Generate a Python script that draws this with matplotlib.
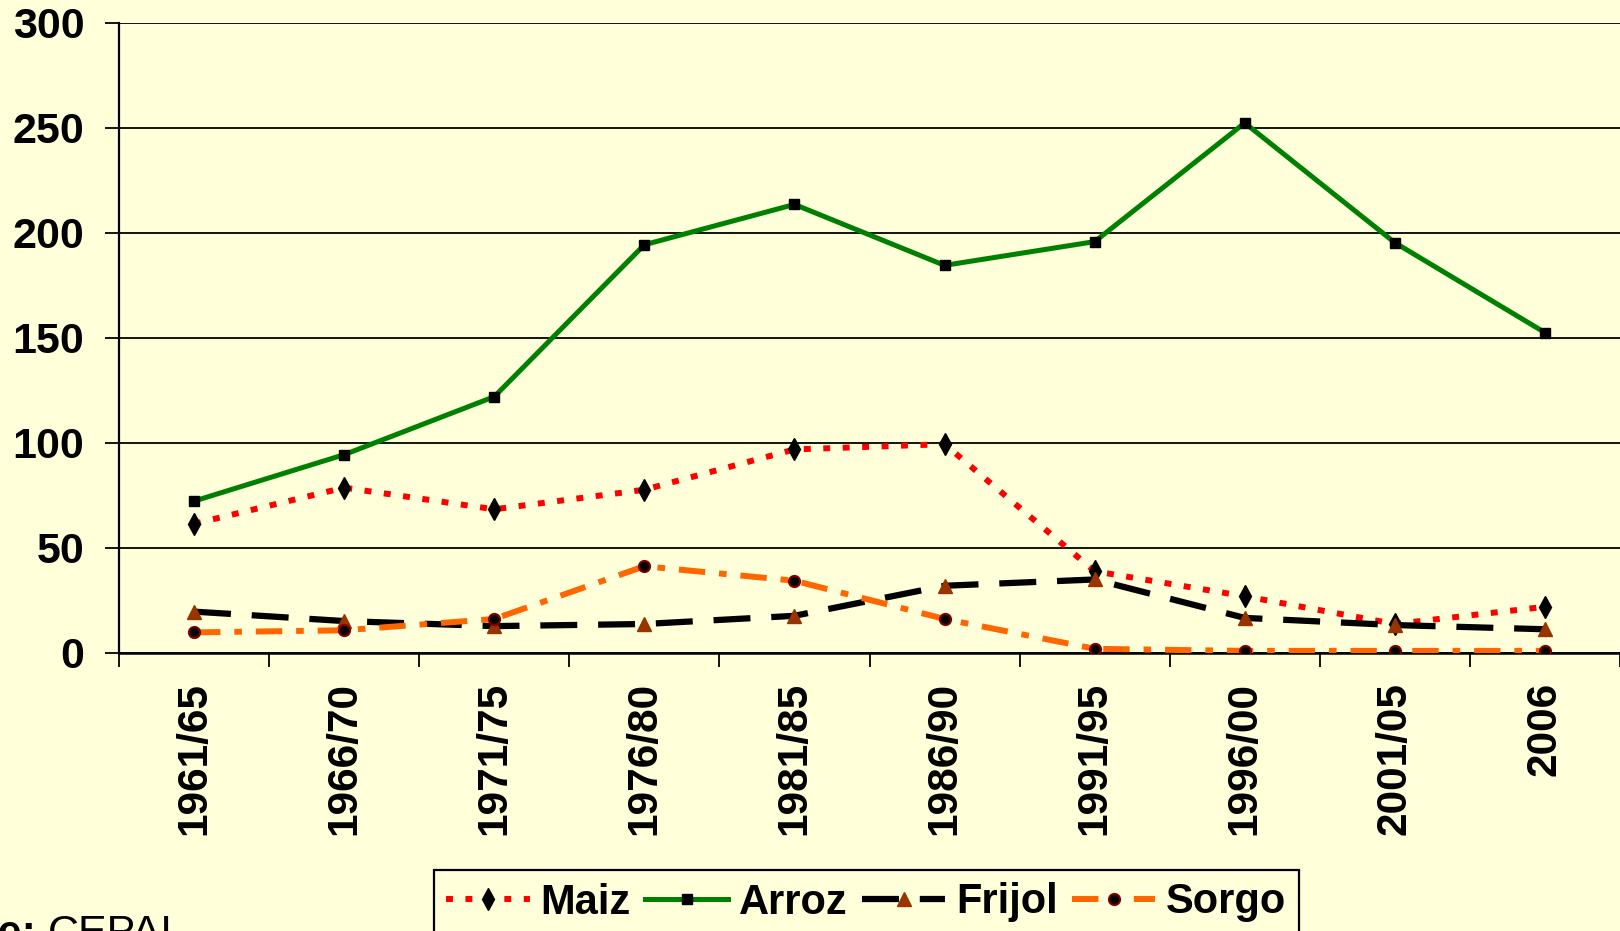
import numpy as np
import matplotlib
matplotlib.use("Agg")
import matplotlib.pyplot as plt

plt.rcParams['font.family'] = ['Liberation Sans', 'DejaVu Sans']
plt.rcParams['lines.scale_dashes'] = False

periods = ["1961/65", "1966/70", "1971/75", "1976/80", "1981/85",
           "1986/90", "1991/95", "1996/00", "2001/05", "2006"]
maiz = [61.5, 78.7, 68.4, 77.7, 96.9, 99.4, 38.9, 27.0, 13.8, 22.0]
arroz = [72.3, 94.4, 122.0, 194.3, 213.5, 184.5, 195.8, 252.3, 195.3, 152.5]
frijol = [19.7, 15.2, 12.8, 13.8, 17.7, 32.0, 35.0, 16.7, 13.3, 11.3]
sorgo = [9.8, 10.8, 16.2, 41.3, 34.4, 16.2, 2.0, 1.0, 1.0, 1.0]
yticks = [0, 50, 100, 150, 200, 250, 300]

bg = '#FFFFDA'
W, H = 1620, 931

fig = plt.figure(figsize=(16.2, 9.31), dpi=100, facecolor=bg)
ax = fig.add_axes([119 / W, 1 - 653 / H, (W - 119) / W, (653 - 22.7) / H])
ax.set_facecolor(bg)

x = np.arange(len(periods))

ax.plot(x, maiz, color='#FF0000', lw=4.3, dashes=(5, 9),
        marker='d', ms=11, mfc='black', mec='black', label='Maiz', zorder=3)
ax.plot(x, arroz, color='#008000', lw=3.6,
        marker='s', ms=7.5, mfc='black', mec='black', label='Arroz', zorder=4)
ax.plot(x, frijol, color='black', lw=4.5, dashes=(26.6, 15),
        marker='^', ms=10, mfc='#993300', mec='#993300', label='Frijol', zorder=5)
ax.plot(x, sorgo, color='#FF6600', lw=4.3, dashes=(19, 10, 5.5, 10),
        marker='o', ms=8, mfc='black', mec='#800000', mew=1.5, label='Sorgo', zorder=6)

ax.set_xlim(-0.5, len(periods) - 0.5)
ax.set_ylim(0, 300)

ax.set_yticks(yticks)
ax.set_yticklabels([str(v) for v in yticks])
ax.yaxis.grid(True, color='black', lw=1.3)
ax.set_axisbelow(True)

ax.set_xticks(x)
ax.set_xticklabels(periods, rotation=90)
ax.set_xticks(np.arange(-0.5, len(periods), 1.0), minor=True)
ax.tick_params(axis='x', which='major', length=0, pad=21)
ax.tick_params(axis='x', which='minor', length=10, width=1.3, direction='out')
ax.tick_params(axis='y', length=10, width=1.3, pad=15)

for lab in ax.get_yticklabels():
    lab.set_fontsize(31)
    lab.set_fontweight('bold')
for lab in ax.get_xticklabels():
    lab.set_fontsize(30.5)
    lab.set_fontweight('bold')

for side in ['top', 'right']:
    ax.spines[side].set_visible(False)
ax.spines['left'].set_linewidth(1.6)
ax.spines['bottom'].set_linewidth(1.8)

leg = fig.legend(loc='upper left', bbox_to_anchor=(434 / W, 1 - 870 / H),
                 borderaxespad=0, ncol=4, frameon=True, fancybox=False,
                 edgecolor='black', facecolor=bg, framealpha=1,
                 handlelength=2.0, handletextpad=0.25, columnspacing=0.35,
                 borderpad=0.3, prop={'size': 30, 'weight': 'bold'})
leg.get_frame().set_linewidth(1.6)

# source note at the bottom left, partly off the page
fig.text(36 / W, -14 / H, "Fuente:", ha='right', va='baseline',
         fontsize=31, fontweight='bold')
fig.text(48 / W, -14 / H, "CEPAL", ha='left', va='baseline', fontsize=31)

fig.savefig('out.png', dpi=100, facecolor=bg)
